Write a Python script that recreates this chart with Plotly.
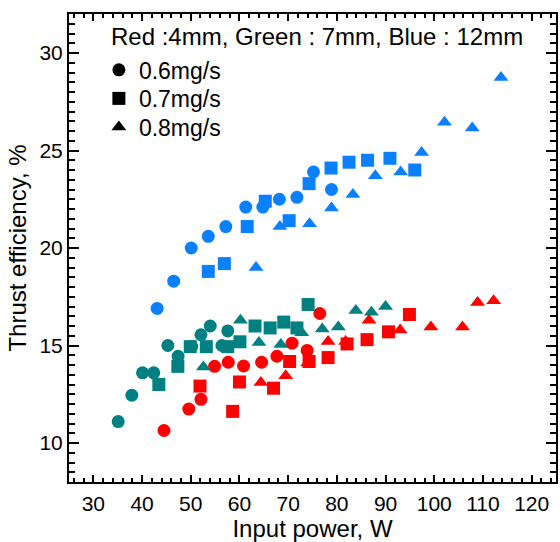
import plotly.graph_objects as go

# ---- data ----
blue_c_x = [43.1, 46.5, 50.1, 53.6, 57.2, 61.3, 64.8, 68.2, 71.8, 75.2, 78.9]
blue_c_y = [16.9, 18.3, 20.0, 20.6, 21.1, 22.1, 22.1, 22.5, 22.6, 23.9, 23.0]
blue_s_x = [53.6, 56.9, 61.6, 65.3, 70.2, 74.3, 78.8, 82.5, 86.3, 90.9, 96.0]
blue_s_y = [18.8, 19.2, 21.1, 22.4, 21.4, 23.3, 24.1, 24.4, 24.5, 24.6, 24.0]
blue_t_x = [63.4, 68.3, 74.4, 78.9, 83.3, 87.9, 93.1, 97.4, 102.1, 107.8, 113.7]
blue_t_y = [19.0, 21.1, 21.25, 22.05, 22.75, 23.7, 23.9, 24.9, 26.45, 26.15, 28.75]

teal_c_x = [35.1, 37.9, 40.1, 42.4, 45.3, 47.4, 50.2, 52.1, 54.0, 56.4, 57.6]
teal_c_y = [11.1, 12.45, 13.6, 13.6, 15.0, 14.45, 14.95, 15.55, 16.0, 15.0, 15.75]
teal_s_x = [43.45, 47.35, 49.9, 53.2, 57.6, 60.1, 63.2, 66.3, 69.1, 71.8, 74.1]
teal_s_y = [13.0, 13.93, 14.94, 14.94, 14.94, 15.19, 16.0, 15.9, 16.2, 15.9, 17.1]
teal_t_x = [52.6, 60.2, 64.0, 68.5, 72.8, 77.0, 80.3, 83.9, 87.1, 90.0]
teal_t_y = [13.9, 16.3, 15.15, 15.05, 15.65, 15.85, 15.95, 16.8, 16.7, 17.0]

red_c_x = [44.5, 49.6, 52.1, 54.9, 57.7, 60.85, 64.55, 67.7, 70.8, 73.9, 76.5]
red_c_y = [10.64, 11.74, 12.24, 13.93, 14.14, 13.95, 14.14, 14.45, 15.12, 14.75, 16.64]
red_s_x = [51.9, 58.6, 60.0, 67.0, 70.3, 74.3, 78.2, 82.1, 86.2, 90.6, 94.9]
red_s_y = [12.92, 11.62, 13.13, 12.81, 14.18, 14.18, 14.38, 15.08, 15.3, 15.7, 16.59]
red_t_x = [64.4, 69.5, 74.0, 78.2, 81.8, 86.6, 93.0, 99.3, 105.8, 108.9, 112.2]
red_t_y = [13.1, 13.45, 14.1, 15.2, 15.2, 16.3, 15.8, 15.95, 15.95, 17.2, 17.3]

legend_names = ["0.6mg/s", "0.7mg/s", "0.8mg/s"]
header_text = "Red :4mm, Green : 7mm, Blue : 12mm"
x_title = "Input power, W"
y_title = "Thrust efficiency, %"

RED = "#FF0000"
TEAL = "#008080"
BLUE = "#0A80FF"
FONT = "Liberation Sans, Arial, sans-serif"

W, H = 560, 542
ML, MR, MT, MB = 69, 2, 14, 53
PW, PH = W - ML - MR, H - MT - MB


def px_x(p):
    return (p - ML) / PW


def px_y(p):
    return 1 - (p - MT) / PH


fig = go.Figure()

groups = [
    (RED, red_t_x, red_t_y, red_c_x, red_c_y, red_s_x, red_s_y),
    (TEAL, teal_t_x, teal_t_y, teal_c_x, teal_c_y, teal_s_x, teal_s_y),
    (BLUE, blue_t_x, blue_t_y, blue_c_x, blue_c_y, blue_s_x, blue_s_y),
]
for col, tx, ty, cx, cy, sx, sy in groups:
    fig.add_trace(go.Scatter(x=tx, y=ty, mode="markers", showlegend=False,
                             marker=dict(symbol="triangle-up", size=13, color=col, line=dict(width=0))))
    fig.add_trace(go.Scatter(x=cx, y=cy, mode="markers", showlegend=False,
                             marker=dict(symbol="circle", size=13, color=col, line=dict(width=0))))
    fig.add_trace(go.Scatter(x=sx, y=sy, mode="markers", showlegend=False,
                             marker=dict(symbol="square", size=13, color=col, line=dict(width=0))))

# legend entries (black symbols), each in its own legend box
legend_keys = ["legend", "legend2", "legend3"]
legend_centers = [70.7, 99.7, 128.7]
for name, sym, sz, lk in zip(legend_names, ["circle", "square", "triangle-up"], [13, 13, 13], legend_keys):
    fig.add_trace(go.Scatter(x=[None], y=[None], mode="markers", name=name, legend=lk,
                             marker=dict(symbol=sym, size=sz, color="black")))

axis_common = dict(
    showline=True, linecolor="black", linewidth=2, mirror="allticks",
    ticks="inside", tickcolor="black", tickwidth=2,
    showgrid=False, zeroline=False,
    tickfont=dict(family=FONT, size=21, color="black"),
)

fig.update_xaxes(range=[25, 125], tickmode="linear", tick0=0, dtick=10, ticklen=7,
                 minor=dict(ticks="inside", dtick=2, tick0=0, ticklen=4, tickwidth=1.5, tickcolor="black"),
                 title=dict(text=x_title, font=dict(family=FONT, size=24, color="black"), standoff=8),
                 ticklabelstandoff=2,
                 **axis_common)
fig.update_yaxes(range=[8, 32], tickmode="linear", tick0=0, dtick=5, ticklen=10,
                 minor=dict(ticks="inside", dtick=0.5, tick0=0, ticklen=6, tickwidth=1.5, tickcolor="black"),
                 title=dict(text=y_title, font=dict(family=FONT, size=24, color="black"), standoff=6),
                 **axis_common)

fig.add_annotation(text=header_text, xref="paper", yref="paper",
                   x=px_x(109), y=px_y(36.7), xanchor="left", yanchor="middle",
                   showarrow=False, font=dict(family=FONT, size=24, color="black"))

leg_common = dict(xanchor="left", yanchor="middle", bgcolor="rgba(0,0,0,0)",
                  font=dict(family=FONT, size=23, color="black"), itemwidth=30)
fig.update_layout(
    width=W, height=H,
    margin=dict(l=ML, r=MR, t=MT, b=MB),
    paper_bgcolor="white", plot_bgcolor="white",
    showlegend=True,
    legend=dict(x=px_x(99), y=px_y(legend_centers[0]), **leg_common),
    legend2=dict(x=px_x(99), y=px_y(legend_centers[1]), **leg_common),
    legend3=dict(x=px_x(99), y=px_y(legend_centers[2]), **leg_common),
)

fig.write_html("out.html", config={"displayModeBar": False},
               post_script="document.body.style.margin='0';document.body.style.overflow='hidden';")
